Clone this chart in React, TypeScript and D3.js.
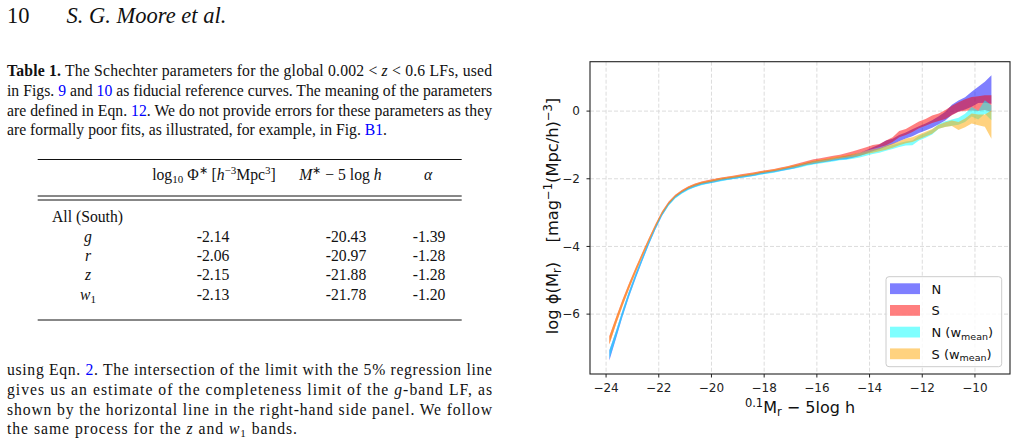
import * as d3 from 'd3';

// luminosity function bins: 0.1M_r - 5 log h (bin centres)
const MAGS = [
  -23.875, -23.625, -23.375, -23.125, -22.875, -22.625, -22.375, -22.125, -21.875, -21.625,
  -21.375, -21.125, -20.875, -20.625, -20.375, -20.125, -19.875, -19.625, -19.375, -19.125,
  -18.875, -18.625, -18.375, -18.125, -17.875, -17.625, -17.375, -17.125, -16.875, -16.625,
  -16.375, -16.125, -15.875, -15.625, -15.375, -15.125, -14.875, -14.625, -14.375, -14.125,
  -13.875, -13.625, -13.375, -13.125, -12.875, -12.625, -12.375, -12.125, -11.875, -11.625,
  -11.375, -11.125, -10.875, -10.625, -10.375, -10.125, -9.875, -9.625, -9.375,
];

// log phi, north
const N_MID = [
  -7.22, -6.62, -5.98, -5.40, -4.87, -4.37, -3.89, -3.45, -3.05, -2.75,
  -2.54, -2.40, -2.29, -2.21, -2.15, -2.11, -2.07, -2.03, -2.00, -1.97,
  -1.94, -1.91, -1.88, -1.84, -1.81, -1.78, -1.74, -1.70, -1.66, -1.61,
  -1.56, -1.52, -1.49, -1.46, -1.43, -1.40, -1.37, -1.33, -1.28, -1.21,
  -1.13, -1.06, -0.96, -0.90, -0.80, -0.72, -0.64, -0.55, -0.47, -0.38,
  -0.27, -0.15, 0.04, 0.15, 0.23, 0.35, 0.48, 0.56, 0.64,
];
const N_ERR = [
  0.15, 0.11, 0.09, 0.08, 0.07, 0.06, 0.05, 0.045, 0.04, 0.035,
  0.03, 0.03, 0.03, 0.03, 0.03, 0.03, 0.03, 0.03, 0.03, 0.03,
  0.03, 0.03, 0.03, 0.03, 0.03, 0.03, 0.03, 0.03, 0.035, 0.035,
  0.035, 0.04, 0.04, 0.04, 0.04, 0.04, 0.05, 0.05, 0.05, 0.05,
  0.06, 0.07, 0.09, 0.08, 0.09, 0.09, 0.10, 0.10, 0.10, 0.11,
  0.12, 0.13, 0.15, 0.16, 0.18, 0.22, 0.24, 0.31, 0.42,
];

// log phi, south
const S_MID = [
  -6.77, -6.20, -5.66, -5.16, -4.69, -4.24, -3.80, -3.38, -3.00, -2.71,
  -2.50, -2.36, -2.25, -2.17, -2.11, -2.07, -2.03, -1.99, -1.96, -1.93,
  -1.90, -1.87, -1.84, -1.80, -1.77, -1.74, -1.70, -1.66, -1.61, -1.56,
  -1.51, -1.46, -1.43, -1.40, -1.36, -1.33, -1.29, -1.24, -1.18, -1.12,
  -1.06, -1.02, -0.94, -0.84, -0.68, -0.62, -0.52, -0.41, -0.33, -0.24,
  -0.18, -0.10, 0.02, 0.12, 0.18, 0.22, 0.22, 0.25, 0.22,
];
const S_ERR = [
  0.12, 0.10, 0.09, 0.08, 0.07, 0.06, 0.05, 0.045, 0.04, 0.035,
  0.03, 0.03, 0.03, 0.03, 0.03, 0.03, 0.03, 0.03, 0.03, 0.03,
  0.03, 0.03, 0.03, 0.03, 0.03, 0.03, 0.03, 0.03, 0.035, 0.035,
  0.035, 0.04, 0.04, 0.04, 0.04, 0.04, 0.05, 0.05, 0.05, 0.05,
  0.06, 0.05, 0.07, 0.07, 0.09, 0.09, 0.10, 0.10, 0.10, 0.11,
  0.11, 0.13, 0.14, 0.14, 0.17, 0.20, 0.22, 0.22, 0.25,
];

// log phi, north with mean weights
const NW_MID = [
  -7.20, -6.60, -5.97, -5.39, -4.86, -4.37, -3.89, -3.45, -3.05, -2.76,
  -2.55, -2.41, -2.30, -2.22, -2.16, -2.12, -2.08, -2.04, -2.01, -1.98,
  -1.95, -1.92, -1.89, -1.85, -1.82, -1.79, -1.75, -1.71, -1.67, -1.63,
  -1.58, -1.54, -1.51, -1.48, -1.45, -1.41, -1.39, -1.36, -1.32, -1.27,
  -1.22, -1.17, -1.11, -1.06, -1.00, -0.96, -0.94, -0.80, -0.72, -0.62,
  -0.45, -0.38, -0.34, -0.30, -0.20, -0.02, -0.12, 0.12, -0.05,
];
const NW_ERR = [
  0.13, 0.10, 0.09, 0.08, 0.07, 0.06, 0.05, 0.045, 0.04, 0.035,
  0.03, 0.03, 0.03, 0.03, 0.03, 0.03, 0.03, 0.03, 0.03, 0.03,
  0.03, 0.03, 0.03, 0.03, 0.03, 0.03, 0.03, 0.03, 0.035, 0.035,
  0.035, 0.04, 0.04, 0.04, 0.04, 0.04, 0.05, 0.05, 0.05, 0.05,
  0.05, 0.06, 0.06, 0.06, 0.06, 0.06, 0.07, 0.07, 0.07, 0.07,
  0.07, 0.08, 0.09, 0.10, 0.12, 0.14, 0.13, 0.20, 0.22,
];

// log phi, south with mean weights
const SW_MID = [
  -6.78, -6.21, -5.67, -5.17, -4.70, -4.25, -3.81, -3.39, -3.01, -2.72,
  -2.51, -2.37, -2.26, -2.18, -2.12, -2.08, -2.04, -2.00, -1.97, -1.94,
  -1.91, -1.88, -1.85, -1.81, -1.78, -1.75, -1.71, -1.67, -1.63, -1.59,
  -1.54, -1.50, -1.47, -1.44, -1.40, -1.37, -1.34, -1.31, -1.27, -1.22,
  -1.18, -1.14, -1.08, -1.02, -0.95, -0.88, -0.84, -0.76, -0.68, -0.60,
  -0.46, -0.40, -0.36, -0.44, -0.35, -0.22, -0.26, -0.28, -0.40,
];
const SW_ERR = [
  0.12, 0.10, 0.09, 0.08, 0.07, 0.06, 0.05, 0.045, 0.04, 0.035,
  0.03, 0.03, 0.03, 0.03, 0.03, 0.03, 0.03, 0.03, 0.03, 0.03,
  0.03, 0.03, 0.03, 0.03, 0.03, 0.03, 0.03, 0.03, 0.035, 0.035,
  0.035, 0.04, 0.04, 0.04, 0.04, 0.04, 0.04, 0.05, 0.05, 0.05,
  0.05, 0.05, 0.06, 0.06, 0.06, 0.07, 0.07, 0.07, 0.07, 0.07,
  0.06, 0.07, 0.08, 0.12, 0.13, 0.15, 0.16, 0.18, 0.42,
];

const X_TICKS = [-24, -22, -20, -18, -16, -14, -12, -10];
const Y_TICKS = [0, -2, -4, -6];

// Schechter fit table
const BANDS = ['g', 'r', 'z', 'w'];
const LOG_PHI_STAR = ['-2.14', '-2.06', '-2.15', '-2.13'];
const M_STAR = ['-20.43', '-20.97', '-21.88', '-21.78'];
const ALPHA = ['-1.39', '-1.28', '-1.28', '-1.20'];

const SERIES = [
  { name: 'N', sub: '', mid: N_MID, err: N_ERR, color: '#0000ff' },
  { name: 'S', sub: '', mid: S_MID, err: S_ERR, color: '#ff0000' },
  { name: 'N (w', sub: 'mean', mid: NW_MID, err: NW_ERR, color: '#00ffff' },
  { name: 'S (w', sub: 'mean', mid: SW_MID, err: SW_ERR, color: '#ffa500' },
];

const SERIF = '"Liberation Serif", "Times New Roman", serif';
const SANS = '"DejaVu Sans", sans-serif';
const LINK = '#0000ff';
const INK = '#111';

const frame = { left: 590, right: 1010, top: 61.7, bottom: 374 };

function LumFunctionPanel() {
  const x = d3.scaleLinear().domain([-24.61, -8.67]).range([frame.left, frame.right]);
  const y = d3.scaleLinear().domain([-7.77, 1.46]).range([frame.bottom, frame.top]);

  const bandPath = (mid: number[], err: number[]) =>
    d3
      .area<number>()
      .x((_, i) => x(MAGS[i]))
      .y0((d, i) => y(d - err[i]))
      .y1((d, i) => y(d + err[i]))(mid) ?? '';

  const lg = { x: 886, y: 276.7, w: 115.7, h: 90, row: 21.7 };

  return (
    <g fontFamily={SANS}>
      <defs>
        <clipPath id="plot-clip">
          <rect x={frame.left} y={frame.top} width={frame.right - frame.left} height={frame.bottom - frame.top} />
        </clipPath>
      </defs>

      {/* dashed grid */}
      {X_TICKS.map((t) => (
        <line key={`gx${t}`} x1={x(t)} x2={x(t)} y1={frame.top} y2={frame.bottom}
          stroke="#dcdcdc" strokeWidth={1} strokeDasharray="4 2" />
      ))}
      {Y_TICKS.map((t) => (
        <line key={`gy${t}`} x1={frame.left} x2={frame.right} y1={y(t)} y2={y(t)}
          stroke="#dcdcdc" strokeWidth={1} strokeDasharray="4 2" />
      ))}

      {/* shaded LF bands */}
      <g clipPath="url(#plot-clip)">
        {SERIES.map((s) => (
          <path key={s.name + s.sub} d={bandPath(s.mid, s.err)} fill={s.color} fillOpacity={0.5} stroke="none" />
        ))}
      </g>

      {/* spines */}
      <rect x={frame.left} y={frame.top} width={frame.right - frame.left} height={frame.bottom - frame.top}
        fill="none" stroke="#222" strokeWidth={1.1} />

      {/* x axis */}
      {X_TICKS.map((t) => (
        <g key={`tx${t}`}>
          <line x1={x(t)} x2={x(t)} y1={frame.bottom} y2={frame.bottom + 3.5} stroke="#222" strokeWidth={1} />
          <text x={x(t)} y={391.5} fontSize={12} textAnchor="middle" fill="#222">
            {t < 0 ? `\u2212${Math.abs(t)}` : t}
          </text>
        </g>
      ))}
      {/* y axis */}
      {Y_TICKS.map((t) => (
        <g key={`ty${t}`}>
          <line x1={frame.left - 3.5} x2={frame.left} y1={y(t)} y2={y(t)} stroke="#222" strokeWidth={1} />
          <text x={580} y={y(t)} dy="0.36em" fontSize={12} textAnchor="end" fill="#222">
            {t < 0 ? `\u2212${Math.abs(t)}` : t}
          </text>
        </g>
      ))}

      <text x={800} y={413} fontSize={16} textAnchor="middle" fill="#111">
        <tspan fontSize={11.5} dy={-6}>0.1</tspan>
        <tspan dy={6}>M</tspan>
        <tspan fontSize={11.5} dy={3}>r</tspan>
        <tspan dy={-3}>{' \u2212 5log h'}</tspan>
      </text>

      <text transform="translate(558,216) rotate(-90)" fontSize={16.3} textAnchor="middle" fill="#111">
        <tspan>{'log \u03d5(M'}</tspan>
        <tspan fontSize={11.5} dy={3}>r</tspan>
        <tspan dy={-3}>{')\u2003\u2009[mag'}</tspan>
        <tspan fontSize={11.5} dy={-6}>{'\u22121'}</tspan>
        <tspan dy={6}>(Mpc/h)</tspan>
        <tspan fontSize={11.5} dy={-6}>{'\u22123'}</tspan>
        <tspan dy={6}>]</tspan>
      </text>

      {/* legend */}
      <rect x={lg.x} y={lg.y} width={lg.w} height={lg.h} rx={3} fill="#fff" fillOpacity={0.8}
        stroke="#cccccc" strokeWidth={1} />
      {SERIES.map((s, i) => {
        const cy = 288.7 + i * lg.row;
        return (
          <g key={`lg${i}`}>
            <rect x={890} y={cy - 5.4} width={30} height={10.8} fill={s.color} fillOpacity={0.5} />
            <text x={931.5} y={cy + 5} fontSize={13} fill="#111">
              <tspan>{s.name}</tspan>
              {s.sub && (
                <>
                  <tspan fontSize={9.5} dy={2.5}>{s.sub}</tspan>
                  <tspan dy={-2.5}>)</tspan>
                </>
              )}
            </text>
          </g>
        );
      })}
    </g>
  );
}

function TextColumn() {
  const fs = 15.7;
  const small = 11;
  const cols = { label: 88, phi: 213, mstar: 346, alpha: 429 };
  const rowY = [241.7, 261, 280.3, 299.5];

  return (
    <g fontFamily={SERIF} fill={INK}>
      <text x={7} y={23} fontSize={22.5}>10</text>
      <text x={66.5} y={23} fontSize={22.5} fontStyle="italic">S. G. Moore et al.</text>

      {/* table caption */}
      <text x={7} y={76} fontSize={fs} textLength={485} lengthAdjust="spacing">
        <tspan fontWeight="bold">Table 1.</tspan>
        {' The Schechter parameters for the global 0.002 < '}
        <tspan fontStyle="italic">z</tspan>
        {' < 0.6 LFs, used'}
      </text>
      <text x={7} y={95.7} fontSize={fs} textLength={485} lengthAdjust="spacing">
        {'in Figs. '}
        <tspan fill={LINK}>9</tspan>
        {' and '}
        <tspan fill={LINK}>10</tspan>
        {' as fiducial reference curves. The meaning of the parameters'}
      </text>
      <text x={7} y={115.5} fontSize={fs} textLength={485} lengthAdjust="spacing">
        {'are defined in Eqn. '}
        <tspan fill={LINK}>12</tspan>
        {'. We do not provide errors for these parameters as they'}
      </text>
      <text x={7} y={135.2} fontSize={fs} textLength={380} lengthAdjust="spacing">
        {'are formally poor fits, as illustrated, for example, in Fig. '}
        <tspan fill={LINK}>B1</tspan>
        {'.'}
      </text>

      {/* table rules */}
      <line x1={37.7} x2={461.7} y1={159.5} y2={159.5} stroke="#111" strokeWidth={1} />
      <line x1={37.7} x2={461.7} y1={196} y2={196} stroke="#111" strokeWidth={1} />
      <line x1={37.7} x2={461.7} y1={200} y2={200} stroke="#111" strokeWidth={1} />
      <line x1={37.7} x2={461.7} y1={320} y2={320} stroke="#111" strokeWidth={1} />

      {/* table header */}
      <text x={cols.phi + 1} y={180} fontSize={fs} textAnchor="middle">
        <tspan>log</tspan>
        <tspan fontSize={small} dy={3}>10</tspan>
        <tspan dy={-3}>{' \u03a6'}</tspan>
        <tspan fontSize={small} dy={-6}>{'\u2217'}</tspan>
        <tspan dy={6}>{' ['}</tspan>
        <tspan fontStyle="italic">h</tspan>
        <tspan fontSize={small} dy={-6}>{'\u22123'}</tspan>
        <tspan dy={6}>Mpc</tspan>
        <tspan fontSize={small} dy={-6}>3</tspan>
        <tspan dy={6}>]</tspan>
      </text>
      <text x={340.5} y={180} fontSize={fs} textAnchor="middle">
        <tspan fontStyle="italic">M</tspan>
        <tspan fontSize={small} dy={-6}>{'\u2217'}</tspan>
        <tspan dy={6}>{' \u2212 5 log '}</tspan>
        <tspan fontStyle="italic">h</tspan>
      </text>
      <text x={428} y={180} fontSize={fs} textAnchor="middle" fontStyle="italic">{'\u03b1'}</text>

      <text x={52} y={221.7} fontSize={fs}>All (South)</text>
      {BANDS.map((b, i) => (
        <g key={b}>
          <text x={cols.label} y={rowY[i]} fontSize={fs} textAnchor="middle" fontStyle="italic">
            {b}
            {b === 'w' && (
              <tspan fontStyle="normal" fontSize={small} dy={3}>1</tspan>
            )}
          </text>
          <text x={cols.phi} y={rowY[i]} fontSize={fs} textAnchor="middle">{LOG_PHI_STAR[i]}</text>
          <text x={cols.mstar} y={rowY[i]} fontSize={fs} textAnchor="middle">{M_STAR[i]}</text>
          <text x={cols.alpha} y={rowY[i]} fontSize={fs} textAnchor="middle">{ALPHA[i]}</text>
        </g>
      ))}

      {/* body paragraph */}
      <text x={7} y={375} fontSize={fs} textLength={485} lengthAdjust="spacing">
        {'using Eqn. '}
        <tspan fill={LINK}>2</tspan>
        {'. The intersection of the limit with the 5% regression line'}
      </text>
      <text x={7} y={395} fontSize={fs} textLength={485} lengthAdjust="spacing">
        {'gives us an estimate of the completeness limit of the '}
        <tspan fontStyle="italic">g</tspan>
        {'-band LF, as'}
      </text>
      <text x={7} y={414.5} fontSize={fs} textLength={485} lengthAdjust="spacing">
        shown by the horizontal line in the right-hand side panel. We follow
      </text>
      <text x={7} y={434.3} fontSize={fs} textLength={290} lengthAdjust="spacing">
        {'the same process for the '}
        <tspan fontStyle="italic">z</tspan>
        {' and '}
        <tspan fontStyle="italic">w</tspan>
        <tspan fontSize={small} dy={3}>1</tspan>
        <tspan dy={-3}>{' bands.'}</tspan>
      </text>
    </g>
  );
}

export default function App() {
  return (
    <svg
      width={1017}
      height={447}
      viewBox="0 0 1017 447"
      style={{ position: 'fixed', left: 0, top: 0, background: '#fff' }}
    >
      <rect width={1017} height={447} fill="#fff" />
      <TextColumn />
      <LumFunctionPanel />
    </svg>
  );
}
